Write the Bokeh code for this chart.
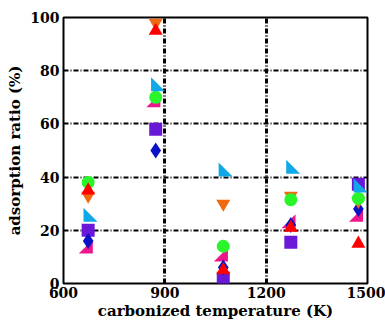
import numpy as np
from bokeh.plotting import figure
from bokeh.models import FixedTicker, Range1d
from bokeh.embed import file_html
from bokeh.resources import INLINE

# ---- data ----
temps = [673, 873, 1073, 1273, 1473]
blue_diamond = [16, 50, 6, 22, 28]
purple_square = [20, 58, 2, 15.5, 37.3]
magenta_tri = [13, 68, 10, 22.5, 25]
cyan_tri = [25, 74, 42, 43, 36]
green_circle = [38, 70, 14, 31.5, 32]
red_tri = [35, 95, 5, 21, 15]
orange_invtri = [33, 98, 30, 33, 31]
x_ticks = [600, 900, 1200, 1500]
y_ticks = [0, 20, 40, 60, 80, 100]

FONT = "DejaVu Serif"
FW, FH = 304, 266
X0, X1, Y0, Y1 = 600, 1500, 0, 100
kx = (X1 - X0) / FW   # data units per px
ky = (Y1 - Y0) / FH

p = figure(width=385, height=324, output_backend="svg", toolbar_location=None,
           x_range=Range1d(X0, X1), y_range=Range1d(Y0, Y1),
           min_border_left=63, min_border_top=17, min_border_right=18, min_border_bottom=41,
           background_fill_color="white", border_fill_color="white")

p.outline_line_color = "black"
p.outline_line_width = 2
p.outline_line_alpha = 1

for ax in (p.xaxis, p.yaxis):
    ax.axis_line_color = None
    ax.major_tick_line_color = None
    ax.minor_tick_line_color = None
    ax.major_tick_out = 0
    ax.major_tick_in = 0
    ax.minor_tick_out = 0
    ax.minor_tick_in = 0
    ax.major_label_text_font = FONT
    ax.major_label_text_font_style = "bold"
    ax.major_label_text_font_size = "14px"
    ax.major_label_text_color = "black"
    ax.axis_label_text_font = FONT
    ax.axis_label_text_font_style = "bold"
    ax.axis_label_text_font_size = "15px"
    ax.axis_label_text_color = "black"

p.xaxis.ticker = FixedTicker(ticks=x_ticks)
p.yaxis.ticker = FixedTicker(ticks=y_ticks)
p.xaxis.major_label_standoff = 3
p.yaxis.major_label_standoff = 4
p.xaxis.axis_label_standoff = 1
p.yaxis.axis_label_standoff = 3
p.xaxis.axis_label = "carbonized temperature (K)"
p.yaxis.axis_label = "adsorption ratio (%)"

p.xgrid.grid_line_color = "black"
p.xgrid.grid_line_width = 3
p.xgrid.grid_line_dash = "5 2 1 2"
p.ygrid.grid_line_color = "black"
p.ygrid.grid_line_width = 2
p.ygrid.grid_line_dash = "5 2 1 2"

def right_tri(xs, ys, right_angle_left, w=14, h=14):
    pxs, pys = [], []
    for x, y in zip(xs, ys):
        if right_angle_left:
            dx = [-w / 3, -w / 3, 2 * w / 3]
        else:
            dx = [w / 3, w / 3, -2 * w / 3]
        dy = [2 * h / 3, -h / 3, -h / 3]
        pxs.append([x + d * kx for d in dx])
        pys.append([y + d * ky for d in dy])
    return pxs, pys

# draw order
p.scatter(temps, purple_square, marker="square", size=13, color="#6a18d8", line_width=0)
mx, my = right_tri(temps, magenta_tri, False)
p.patches(mx, my, fill_color="#ee168c", line_color=None)
p.scatter(temps, blue_diamond, marker="diamond", size=16, color="#0a12c8", line_width=0)
p.scatter(temps, orange_invtri, marker="inverted_triangle", size=14, color="#f06a12", line_width=0)
p.scatter(temps, green_circle, marker="circle", size=13, color="#2af52a", line_width=0)
p.scatter(temps, red_tri, marker="triangle", size=14, color="#ff0000", line_width=0)
cx, cy = right_tri(temps, cyan_tri, True)
p.patches(cx, cy, fill_color="#10a8e8", line_color=None)

open("out.html", "w").write(file_html(p, INLINE))
